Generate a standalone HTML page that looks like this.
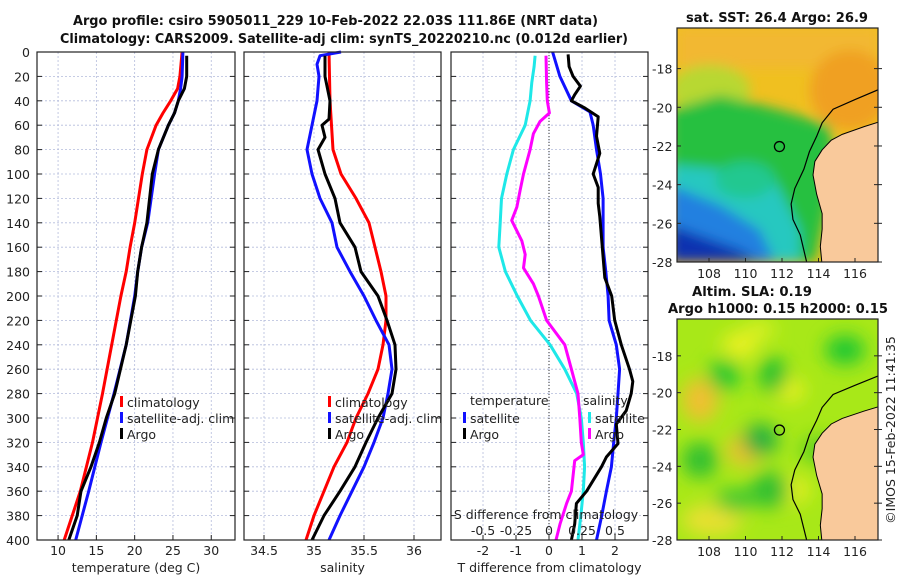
<!DOCTYPE html>
<html><head><meta charset="utf-8"><style>
html,body{margin:0;padding:0;background:#fff;}
svg{display:block;font-family:"DejaVu Sans","Liberation Sans",sans-serif;}
</style></head><body>
<svg id="c" width="900" height="580" viewBox="0 0 900 580" xmlns="http://www.w3.org/2000/svg">
<defs>
<filter id="bl" x="-20%" y="-20%" width="140%" height="140%"><feGaussianBlur stdDeviation="6"/></filter>
<filter id="bl2" x="-20%" y="-20%" width="140%" height="140%"><feGaussianBlur stdDeviation="9"/></filter>
<clipPath id="m1"><rect x="677" y="28" width="201" height="234"/></clipPath>
<clipPath id="m2"><rect x="677" y="319" width="201" height="221"/></clipPath>
</defs>
<g id="root"></g>
</svg>
<script>
// ---- data (depth in m) ----
const tDepth = [0,20,30,40,50,60,80,100,140,160,180,200,240,280,320,360,400];
const tClim  = [26.2,25.9,25.6,24.7,23.7,22.8,21.6,21.0,20.0,19.4,18.9,18.2,17.0,15.8,14.5,12.9,10.8];
const tSat   = [26.3,26.2,26.0,25.7,25.2,24.4,23.1,22.6,21.7,20.9,20.4,20.0,18.9,17.3,15.6,14.0,12.3];
const tArgoD = [3,20,30,40,50,60,80,100,140,160,180,200,240,280,300,320,340,360,380,400];
const tArgo  = [26.8,26.8,26.5,25.7,25.2,24.4,23.1,22.3,21.6,20.9,20.4,20.1,18.9,17.4,16.3,15.4,14.3,13.0,12.5,11.4];

const sDepth = [0,40,80,100,120,140,160,180,200,220,240,260,280,300,320,340,360,380,400];
const sClim  = [35.15,35.16,35.19,35.27,35.42,35.55,35.61,35.67,35.72,35.72,35.69,35.64,35.54,35.42,35.33,35.2,35.1,35.0,34.92];
const sSatD  = [0,3,10,20,40,60,80,100,120,140,160,180,200,220,240,260,280,300,320,340,360,380,400];
const sSat   = [35.27,35.06,35.03,35.05,35.03,34.98,34.93,34.98,35.06,35.18,35.23,35.36,35.5,35.62,35.75,35.78,35.74,35.69,35.6,35.5,35.38,35.26,35.15];
const sArgoD = [3,20,40,55,60,70,80,100,120,140,160,180,200,220,240,260,280,300,320,340,360,380,400];
const sArgo  = [35.11,35.11,35.16,35.15,35.08,35.11,35.04,35.11,35.21,35.26,35.41,35.47,35.64,35.73,35.81,35.82,35.78,35.64,35.52,35.41,35.26,35.1,34.98];

const dTsD = [0,20,40,49,60,80,100,120,140,160,180,200,220,240,260,280,300,320,340,360,381,400];
const dTs  = [0.11,0.33,0.68,1.24,1.34,1.44,1.56,1.64,1.64,1.64,1.72,1.79,1.82,2.04,2.14,2.09,2.04,1.96,1.89,1.74,1.59,1.44];
const dTaD = [2,12,20,28,35,40,46,53,69,83,100,111,124,135,152,168,185,200,220,240,260,270,280,294,305,321,332,340,360,370,387,400];
const dTa  = [0.58,0.61,0.73,0.95,0.78,0.68,1.09,1.49,1.44,1.54,1.34,1.49,1.49,1.54,1.59,1.64,1.69,1.9,1.99,2.19,2.44,2.54,2.49,2.34,2.04,2.09,1.74,1.59,1.14,0.83,0.78,0.68];
const dSsD = [3,12,25,40,60,80,100,120,140,160,180,200,220,240,260,280,300,320,340,360,381,400];
const dSs  = [-0.105,-0.113,-0.13,-0.143,-0.18,-0.27,-0.32,-0.36,-0.37,-0.38,-0.33,-0.24,-0.14,0.008,0.12,0.21,0.245,0.26,0.27,0.26,0.24,0.22];
const dSaD = [3,25,40,50,57,67,80,100,113,127,138,155,166,177,190,200,220,240,260,280,300,320,330,335,360,370,387,400];
const dSa  = [-0.023,-0.018,-0.013,0.003,-0.068,-0.118,-0.143,-0.193,-0.218,-0.243,-0.283,-0.205,-0.18,-0.193,-0.118,-0.08,-0.018,0.12,0.17,0.22,0.233,0.245,0.26,0.195,0.17,0.133,0.083,0.053];

const depthTicks = [0,20,40,60,80,100,120,140,160,180,200,220,240,260,280,300,320,340,360,380,400];
const tTicks = [10,15,20,25,30];
const sTicks = [34.5,35,35.5,36];
const dTTicks = [-2,-1,0,1,2];
const dSTicks = ["-0.5","-0.25","0","0.25","0.5"];
const lonTicks = [108,110,112,114,116];
const latTicks = [-18,-20,-22,-24,-26,-28];

const NS='http://www.w3.org/2000/svg';
const root=document.getElementById('root');
function el(tag,attrs,parent,txt){const e=document.createElementNS(NS,tag);for(const k in attrs)e.setAttribute(k,attrs[k]);if(txt!==undefined)e.textContent=txt;(parent||root).appendChild(e);return e;}

const FS=12.5;
const Y0=52,Y1=540;
const yD=d=>Y0+(Y1-Y0)*d/400;

function panel(name,x0,x1,xmin,xmax,ticks,xlabel){
  const g=el('g',{});
  
  
  const xs=v=>x0+(x1-x0)*(v-xmin)/(xmax-xmin);
  depthTicks.forEach(d=>{const l=el('line',{x1:x0,x2:x1,y1:yD(d),y2:yD(d),stroke:'#b4bcdc','stroke-width':0.8,'stroke-dasharray':'2,2'},g);
    
    el('line',{x1:x0,x2:x0+5,y1:yD(d),y2:yD(d),stroke:'#222'},g);el('line',{x1:x1-5,x2:x1,y1:yD(d),y2:yD(d),stroke:'#222'},g);});
  ticks.forEach(v=>{el('line',{x1:xs(v),x2:xs(v),y1:Y0,y2:Y1,stroke:'#b4bcdc','stroke-width':0.8,'stroke-dasharray':'2,2'},g);
    el('line',{x1:xs(v),x2:xs(v),y1:Y1,y2:Y1-5,stroke:'#222'},g);
    const t=el('text',{x:xs(v),y:555,'text-anchor':'middle','font-size':FS,fill:'#222'},g,String(v));
    });
  const xl=el('text',{x:(x0+x1)/2,y:572,'text-anchor':'middle','font-size':FS,fill:'#222'},g,xlabel);
  
  return {g,xs};
}
function line(p,xsArr,ds,color,name,w){
  const pts=xsArr.map((v,i)=>p.xs(v).toFixed(1)+','+yD(ds[i]).toFixed(1)).join(' ');
  const l=el('polyline',{points:pts,fill:'none',stroke:color,'stroke-width':w||3,'stroke-linejoin':'round'},p.g);
  
}
function frame(g,x0,x1){el('rect',{x:x0,y:Y0,width:x1-x0,height:Y1-Y0,fill:'none',stroke:'#222','stroke-width':1.2},g);}
function legend(g,x,y,items){items.forEach((it,i)=>{
  const r=el('rect',{x:x,y:y+i*16-6,width:3,height:11,fill:it[0]},g);
  
  const t=el('text',{x:x+7,y:y+i*16+5,'font-size':FS,fill:'#222'},g,it[1]);
  });}

depthTicks.forEach(d=>{const t=el('text',{x:30,y:yD(d)+5,'text-anchor':'end','font-size':FS,fill:'#222'},root,String(d));
  });

// Panel 1
const p1=panel('temperature-panel',37,235,7.25,33.1,tTicks,'temperature (deg C)');
line(p1,tClim,tDepth,'#f00','climatology-line');
line(p1,tSat,tDepth,'#11f','satellite-line');
line(p1,tArgo,tArgoD,'#000','argo-line');
legend(p1.g,120,402,[['#f00','climatology'],['#11f','satellite-adj. clim'],['#000','Argo']]);
frame(p1.g,37,235);

// Panel 2
const p2=panel('salinity-panel',244,441,34.3,36.27,sTicks,'salinity');
line(p2,sClim,sDepth,'#f00','climatology-line');
line(p2,sSat,sSatD,'#11f','satellite-line');
line(p2,sArgo,sArgoD,'#000','argo-line');
legend(p2.g,328,402,[['#f00','climatology'],['#11f','satellite-adj. clim'],['#000','Argo']]);
frame(p2.g,244,441);

// Panel 3
const p3=panel('difference-panel',451,648,-2.97,3.0,dTTicks,'T difference from climatology');
el('line',{x1:p3.xs(0),x2:p3.xs(0),y1:Y0,y2:Y1,stroke:'#333','stroke-dasharray':'1,2'},p3.g);
const p3s={g:p3.g,xs:v=>p3.xs(v*4)};
line(p3s,dSs,dSsD,'#1ee8e8','salinity-satellite-line');
line(p3s,dSa,dSaD,'#f0f','salinity-argo-line');
line(p3,dTs,dTsD,'#11f','temperature-satellite-line');
line(p3,dTa,dTaD,'#000','temperature-argo-line');
el('text',{x:470,y:405,'font-size':FS,fill:'#222'},p3.g,'temperature');
el('text',{x:583,y:405,'font-size':FS,fill:'#222'},p3.g,'salinity');
legend(p3.g,463,418,[['#11f','satellite'],['#000','Argo']]);
legend(p3.g,588,418,[['#1ee8e8','satellite'],['#f0f','Argo']]);
el('text',{x:546,y:519,'text-anchor':'middle','font-size':FS,fill:'#222'},p3.g,'S difference from climatology');
dSTicks.forEach(s=>{const t=el('text',{x:p3.xs(parseFloat(s)*4),y:535,'text-anchor':'middle','font-size':FS,fill:'#222'},p3.g,s);
  });
frame(p3.g,451,648);

// Titles
const t1=el('text',{x:335.5,y:25,'text-anchor':'middle','font-size':13,'font-weight':'bold',fill:'#111',textLength:525,lengthAdjust:'spacingAndGlyphs'},root,'Argo profile: csiro 5905011_229 10-Feb-2022 22.03S 111.86E (NRT data)');

const t2=el('text',{x:344,y:43,'text-anchor':'middle','font-size':13,'font-weight':'bold',fill:'#111',textLength:568,lengthAdjust:'spacingAndGlyphs'},root,'Climatology: CARS2009. Satellite-adj clim: synTS_20220210.nc (0.012d earlier)');


// Maps
function map(name,y0,y1,clip,latTop,draw){
  const g=el('g',{'clip-path':'url(#'+clip+')'});
  
  const X=lon=>709+(lon-108)*18.25;
  const Y=lat=>y1-(lat+28)*(y1-y0)/(latTop+28);
  draw(g,X,Y);
  const land=[[117.5,-20.7],[116.5,-21],[115.3,-21.4],[114.7,-21.7],[114.2,-22.2],[113.8,-22.8],[113.7,-23.5],[113.9,-24.5],[114.2,-25.5],[114.2,-26.3],[114.1,-27.2],[114.2,-28.2],[117.5,-28.2]];
  el('polygon',{points:land.map(p=>X(p[0])+','+Y(p[1])).join(' '),fill:'#f9c99b',stroke:'#000','stroke-width':1},g);
  const cont=[[117.5,-19],[116,-19.6],[114.8,-20.1],[114.2,-20.8],[113.9,-21.5],[113.5,-22.3],[113.2,-23.2],[112.7,-24.2],[112.5,-25],[112.6,-25.8],[113,-26.6],[113.4,-28.2]];
  el('polyline',{points:cont.map(p=>X(p[0])+','+Y(p[1])).join(' '),fill:'none',stroke:'#000','stroke-width':1.2},g);
  el('circle',{cx:X(111.86),cy:Y(-22.03),r:5,fill:'none',stroke:'#000','stroke-width':1.3},g);
  el('rect',{x:677,y:y0,width:201,height:y1-y0,fill:'none',stroke:'#222','stroke-width':1.2});
  lonTicks.forEach(l=>{el('text',{x:X(l),y:y1+16,'text-anchor':'middle','font-size':FS,fill:'#222'},root,String(l));
    el('line',{x1:X(l),x2:X(l),y1:y1,y2:y1-4,stroke:'#222'});});
  latTicks.forEach(l=>{el('text',{x:652,y:Y(l)+5,'text-anchor':'start','font-size':FS,fill:'#222'},root,String(l));
    el('line',{x1:677,x2:681,y1:Y(l),y2:Y(l),stroke:'#222'});el('line',{x1:874,x2:882,y1:Y(l),y2:Y(l),stroke:'#222'});});
}
map('sst-map',28,262,'m1',-15.9,(g,X,Y)=>{
  el('rect',{x:677,y:28,width:201,height:234,fill:'#f0c020'},g);
  const b=el('g',{filter:'url(#bl)'},g);
  el('rect',{x:677,y:28,width:201,height:40,fill:'#f2b830'},b);
  el('ellipse',{cx:850,cy:90,rx:40,ry:40,fill:'#f0a020'},b);
  el('ellipse',{cx:710,cy:90,rx:40,ry:25,fill:'#b8d830'},b);
  el('polygon',{points:'670,110 720,95 780,110 830,125 835,170 815,262 670,262',fill:'#28c040'},b);
  el('polygon',{points:'670,165 730,170 775,180 800,230 800,262 670,262',fill:'#28c8c0'},b);
  el('polygon',{points:'670,185 720,205 760,230 775,262 670,262',fill:'#2080e0'},b);
  el('polygon',{points:'670,225 740,250 760,262 670,262',fill:'#1030b0'},b);
  el('ellipse',{cx:745,cy:180,rx:30,ry:18,fill:'#20c890'},b);
});
map('sla-map',319,540,'m2',-16.0,(g,X,Y)=>{
  el('rect',{x:677,y:319,width:201,height:221,fill:'#a8e818'},g);
  const b=el('g',{filter:'url(#bl2)'},g);
  [[740,345,18,14,'#e8f020'],[700,400,18,22,'#f0c030'],[745,450,18,16,'#f0c030'],[790,490,20,14,'#e8f020'],[712,520,30,16,'#e8e030'],[760,330,15,10,'#d8f020'],[790,390,15,12,'#e8f020']].forEach(e=>el('ellipse',{cx:e[0],cy:e[1],rx:e[2],ry:e[3],fill:e[4]},b));
  [[724,375,16,16,'#20c830'],[773,375,14,18,'#20c030'],[845,350,20,15,'#20c830'],[760,440,18,16,'#20b040'],[700,460,18,18,'#30c030'],[770,490,20,18,'#30c030'],[820,450,20,14,'#60d020'],[735,500,20,12,'#40c830']].forEach(e=>el('ellipse',{cx:e[0],cy:e[1],rx:e[2],ry:e[3],fill:e[4]},b));
});
const mt=[['sat. SST: 26.4 Argo: 26.9',777,22,182],['Altim. SLA: 0.19',752,296,120],['Argo h1000: 0.15 h2000: 0.15',778,313,220]];
mt.forEach(m=>{const t=el('text',{x:m[1],y:m[2],'text-anchor':'middle','font-size':13,'font-weight':'bold',fill:'#111',textLength:m[3],lengthAdjust:'spacingAndGlyphs'},root,m[0]);
  });
const cp=el('text',{x:0,y:0,'font-size':FS,fill:'#222','text-anchor':'middle',transform:'translate(895,430) rotate(-90)'},root,'©IMOS 15-Feb-2022 11:41:35');

</script>
</body></html>
